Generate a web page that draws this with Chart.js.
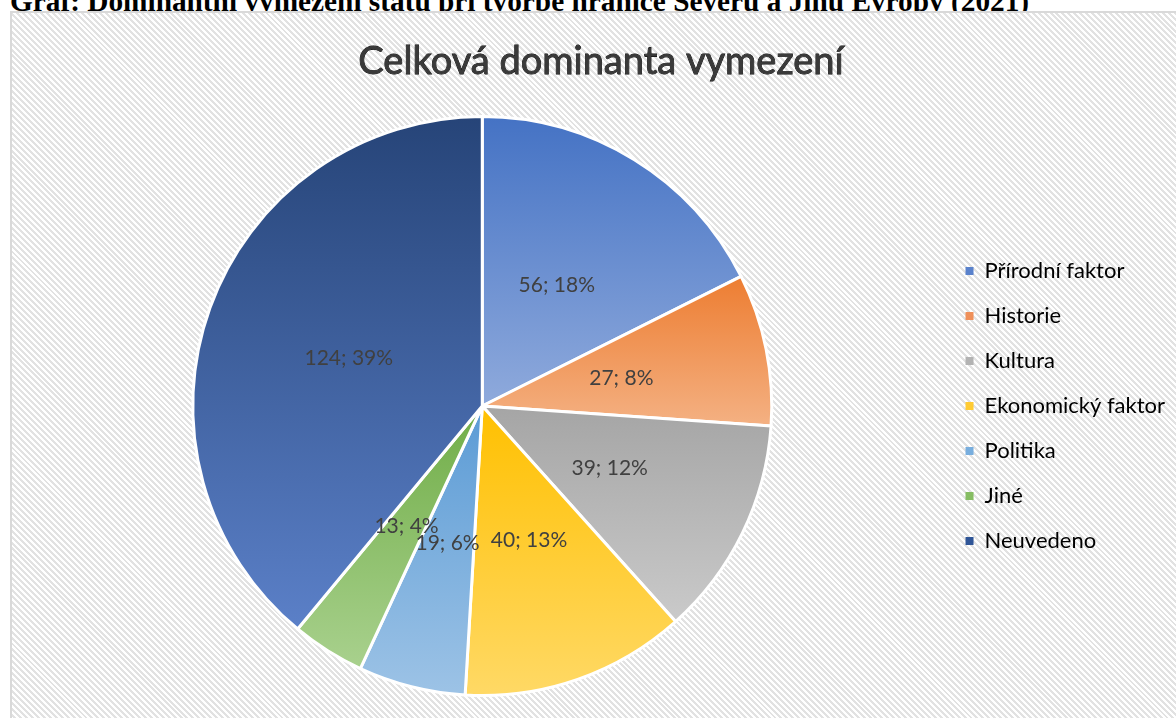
<!DOCTYPE html>
<html lang="cs">
<head>
<meta charset="UTF-8">
<title>Celková dominanta vymezení</title>
<style>
  body { margin: 0; background: #fff; overflow: hidden; width: 1176px; height: 718px; position: relative; }
  #heading { position: absolute; left: 10px; top: -13.5px; font: bold 29.3px/29px "Liberation Serif", "Times New Roman", serif; color: #000; white-space: nowrap; }
  #frame { position: absolute; left: 10px; top: 11px; width: 1190px; height: 730px; border: 2px solid #d9d9d9;
           background: repeating-linear-gradient(45deg, #ffffff 0px, #ffffff 2.1px, #e2e2e2 2.1px, #e2e2e2 4.2px); }
  #chart { position: absolute; left: 8px; top: 0px; }
</style>
</head>
<body>
<div id="heading">Graf: Dominantní vymezení státu při tvorbě hranice Severu a Jihu Evropy (2021)</div>
<div id="frame"></div>
<canvas id="chart" width="1167" height="718"></canvas>

<script src="https://cdn.jsdelivr.net/npm/chart.js"></script>
<script>
  const chartTitle = 'Celková dominanta vymezení';
  const labels = ['Přírodní faktor', 'Historie', 'Kultura', 'Ekonomický faktor', 'Politika', 'Jiné', 'Neuvedeno'];
  const counts = [56, 27, 39, 40, 19, 13, 124];
  // top / bottom colours of each slice's gradient, and the legend swatch
  const topColors = ['#4472c4', '#ed7d31', '#a5a5a5', '#ffc000', '#5b9bd5', '#70ad47', '#264478'];
  const bottomColors = ['#8faadc', '#f4b183', '#cacaca', '#ffd966', '#9dc3e6', '#a9d18e', '#5b80c8'];
  const legendColors = ['#5a82cc', '#ef905a', '#b3b3b3', '#ffcb33', '#78aede', '#86bd63', '#2f5597'];

  const total = counts.reduce((a, b) => a + b, 0);
  const percents = counts.map(v => Math.round(v / total * 100));

  function sliceGradient(context) {
    const chart = context.chart;
    const area = chart.chartArea;
    const i = context.dataIndex;
    if (!area) return topColors[i];
    const cx = (area.left + area.right) / 2;
    const cy = (area.top + area.bottom) / 2;
    const r = Math.min(area.right - area.left, area.bottom - area.top) / 2;
    let before = 0;
    for (let k = 0; k < i; k++) before += counts[k];
    const a0 = -Math.PI / 2 + before / total * 2 * Math.PI;
    const a1 = a0 + counts[i] / total * 2 * Math.PI;
    const ys = [cy, cy + r * Math.sin(a0), cy + r * Math.sin(a1)];
    [-Math.PI / 2, Math.PI / 2, 3 * Math.PI / 2].forEach(a => {
      if (a >= a0 - 1e-9 && a <= a1 + 1e-9) ys.push(cy + r * Math.sin(a));
    });
    const g = chart.ctx.createLinearGradient(0, Math.min(...ys), 0, Math.max(...ys));
    g.addColorStop(0, topColors[i]);
    g.addColorStop(1, bottomColors[i]);
    return g;
  }

  // "value; percent" labels inside the slices, plus the outlined title
  const sliceLabels = {
    id: 'sliceLabels',
    afterDatasetsDraw(chart) {
      const ctx = chart.ctx;
      const meta = chart.getDatasetMeta(0);
      ctx.save();
      ctx.font = '21px Lato';
      ctx.fillStyle = '#404040';
      ctx.textAlign = 'center';
      ctx.textBaseline = 'middle';
      meta.data.forEach((arc, i) => {
        const p = arc.getProps(['x', 'y', 'startAngle', 'endAngle', 'outerRadius'], true);
        const mid = (p.startAngle + p.endAngle) / 2;
        const d = p.outerRadius * 0.49;
        ctx.fillText(counts[i] + '; ' + percents[i] + '%', p.x + Math.cos(mid) * d, p.y + Math.sin(mid) * d);
      });

      ctx.font = '38px Lato';
      ctx.lineWidth = 0.8;
      ctx.strokeStyle = '#000000';
      ctx.fillStyle = '#3a3a3a';
      ctx.strokeText(chartTitle, 593, 62);
      ctx.fillText(chartTitle, 593, 62);
      ctx.restore();
    }
  };

  new Chart(document.getElementById('chart'), {
    type: 'pie',
    data: {
      labels: labels,
      datasets: [{
        data: counts,
        backgroundColor: sliceGradient,
        borderColor: '#ffffff',
        borderWidth: 3
      }]
    },
    options: {
      responsive: false,
      animation: false,
      events: [],
      layout: { padding: { left: 14, right: 0, top: 115, bottom: 21 } },
      plugins: {
        title: { display: false },
        legend: {
          position: 'right',
          fullSize: false,
          labels: {
            boxWidth: 8,
            boxHeight: 8,
            padding: 23,
            color: '#595959',
            font: { family: 'Lato', size: 22 },
            generateLabels: () => labels.map((t, i) => ({
              text: t, fillStyle: legendColors[i], strokeStyle: legendColors[i], lineWidth: 0, index: i, hidden: false
            }))
          }
        },
        tooltip: { enabled: false }
      }
    },
    plugins: [sliceLabels]
  });
</script>
</body>
</html>
